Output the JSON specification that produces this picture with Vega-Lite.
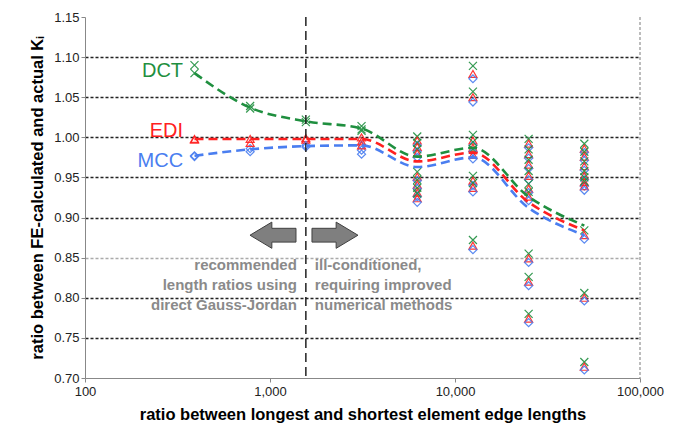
{
  "$schema": "https://vega.github.io/schema/vega-lite/v6.json",
  "width": 555,
  "height": 361,
  "autosize": {"type": "none"},
  "padding": {"left": 85, "top": 17, "right": 36, "bottom": 47},
  "background": "white",
  "config": {"view": {"stroke": null}, "font": "Liberation Sans"},
  "datasets": {
    "pts": [
      {"x": 390.625, "DCT": 1.090, "EDI": 0.998, "MCC": 0.977},
      {"x": 390.625, "DCT": 1.080, "EDI": 0.997, "MCC": 0.976},
      {"x": 781.25, "DCT": 1.039, "EDI": 0.998, "MCC": 0.986},
      {"x": 781.25, "DCT": 1.036, "EDI": 0.993, "MCC": 0.982},
      {"x": 1562.5, "DCT": 1.022, "EDI": 0.999, "MCC": 0.990},
      {"x": 1562.5, "DCT": 1.019, "EDI": 0.997, "MCC": 0.988},
      {"x": 3125, "DCT": 1.014, "EDI": 1.000, "MCC": 0.990},
      {"x": 3125, "DCT": 1.010, "EDI": 0.995, "MCC": 0.984},
      {"x": 3125, "DCT": 1.008, "EDI": 0.990, "MCC": 0.979},
      {"x": 6250, "DCT": 1.001, "EDI": 0.996, "MCC": 0.990},
      {"x": 6250, "DCT": 0.993, "EDI": 0.988, "MCC": 0.982},
      {"x": 6250, "DCT": 0.985, "EDI": 0.980, "MCC": 0.975},
      {"x": 6250, "DCT": 0.957, "EDI": 0.951, "MCC": 0.946},
      {"x": 6250, "DCT": 0.947, "EDI": 0.941, "MCC": 0.936},
      {"x": 6250, "DCT": 0.937, "EDI": 0.931, "MCC": 0.926},
      {"x": 6250, "DCT": 0.930, "EDI": 0.924, "MCC": 0.919},
      {"x": 12500, "DCT": 1.089, "EDI": 1.079, "MCC": 1.073},
      {"x": 12500, "DCT": 1.057, "EDI": 1.050, "MCC": 1.044},
      {"x": 12500, "DCT": 1.003, "EDI": 0.996, "MCC": 0.990},
      {"x": 12500, "DCT": 0.994, "EDI": 0.987, "MCC": 0.982},
      {"x": 12500, "DCT": 0.985, "EDI": 0.978, "MCC": 0.973},
      {"x": 12500, "DCT": 0.952, "EDI": 0.946, "MCC": 0.940},
      {"x": 12500, "DCT": 0.943, "EDI": 0.937, "MCC": 0.932},
      {"x": 12500, "DCT": 0.872, "EDI": 0.865, "MCC": 0.860},
      {"x": 25000, "DCT": 0.998, "EDI": 0.992, "MCC": 0.987},
      {"x": 25000, "DCT": 0.985, "EDI": 0.979, "MCC": 0.974},
      {"x": 25000, "DCT": 0.972, "EDI": 0.966, "MCC": 0.961},
      {"x": 25000, "DCT": 0.958, "EDI": 0.952, "MCC": 0.947},
      {"x": 25000, "DCT": 0.942, "EDI": 0.936, "MCC": 0.931},
      {"x": 25000, "DCT": 0.932, "EDI": 0.926, "MCC": 0.921},
      {"x": 25000, "DCT": 0.855, "EDI": 0.849, "MCC": 0.844},
      {"x": 25000, "DCT": 0.826, "EDI": 0.820, "MCC": 0.815},
      {"x": 25000, "DCT": 0.780, "EDI": 0.774, "MCC": 0.769},
      {"x": 50000, "DCT": 0.992, "EDI": 0.986, "MCC": 0.981},
      {"x": 50000, "DCT": 0.982, "EDI": 0.976, "MCC": 0.971},
      {"x": 50000, "DCT": 0.970, "EDI": 0.964, "MCC": 0.959},
      {"x": 50000, "DCT": 0.958, "EDI": 0.952, "MCC": 0.947},
      {"x": 50000, "DCT": 0.950, "EDI": 0.944, "MCC": 0.939},
      {"x": 50000, "DCT": 0.945, "EDI": 0.939, "MCC": 0.934},
      {"x": 50000, "DCT": 0.884, "EDI": 0.878, "MCC": 0.873},
      {"x": 50000, "DCT": 0.806, "EDI": 0.800, "MCC": 0.796},
      {"x": 50000, "DCT": 0.720, "EDI": 0.714, "MCC": 0.710}
    ],
    "means": [
      {"x": 390.625, "DCT": 1.080, "EDI": 0.998, "MCC": 0.977},
      {"x": 781.25, "DCT": 1.037, "EDI": 0.998, "MCC": 0.985},
      {"x": 1562.5, "DCT": 1.020, "EDI": 0.998, "MCC": 0.989},
      {"x": 3125, "DCT": 1.011, "EDI": 0.998, "MCC": 0.990},
      {"x": 6250, "DCT": 0.976, "EDI": 0.970, "MCC": 0.963},
      {"x": 12500, "DCT": 0.987, "EDI": 0.981, "MCC": 0.975},
      {"x": 25000, "DCT": 0.926, "EDI": 0.919, "MCC": 0.912},
      {"x": 50000, "DCT": 0.890, "EDI": 0.884, "MCC": 0.878}
    ],
    "labels": [
      {"label": "DCT", "x": 339, "y": 1.083},
      {"label": "EDI", "x": 339, "y": 1.008},
      {"label": "MCC", "x": 339, "y": 0.970}
    ],
    "notes": [
      {"side": "left", "text": "recommended", "x": 1562.5, "y": 0.841},
      {"side": "left", "text": "length ratios using", "x": 1562.5, "y": 0.816},
      {"side": "left", "text": "direct Gauss-Jordan", "x": 1562.5, "y": 0.791},
      {"side": "right", "text": "ill-conditioned,", "x": 1562.5, "y": 0.841},
      {"side": "right", "text": "requiring improved", "x": 1562.5, "y": 0.816},
      {"side": "right", "text": "numerical methods", "x": 1562.5, "y": 0.791}
    ],
    "arrows": [
      {"dir": "left", "x": 1038, "y": 0.878},
      {"dir": "right", "x": 2245, "y": 0.878}
    ],
    "vlines": [
      {"x": 1562.5, "kind": "limit"},
      {"x": 100000, "kind": "edge"}
    ]
  },
  "layer": [
    {
      "data": {"name": "pts"},
      "transform": [{"fold": ["DCT", "EDI", "MCC"], "as": ["method", "y"]}],
      "mark": {"type": "point", "filled": false, "strokeWidth": 1.2, "size": 64, "opacity": 0.9},
      "encoding": {
        "x": {
          "field": "x", "type": "quantitative",
          "scale": {"type": "log", "domain": [100, 100000], "nice": false},
          "axis": {
            "values": [100, 1000, 10000, 100000], "format": ",",
            "title": "ratio between longest and shortest element edge lengths",
            "titleFont": "Liberation Sans", "titleFontSize": 16.5, "titleFontWeight": "bold", "titleColor": "#000",
            "titlePadding": 8,
            "labelFont": "Liberation Sans", "labelFontSize": 13, "labelColor": "#222",
            "domainColor": "#888", "tickColor": "#888", "tickSize": 4, "grid": false, "labelPadding": 3,
            "labelFlush": false
          }
        },
        "y": {
          "field": "y", "type": "quantitative",
          "scale": {"domain": [0.7, 1.15], "nice": false, "zero": false},
          "axis": {
            "values": [0.7, 0.75, 0.8, 0.85, 0.9, 0.95, 1.0, 1.05, 1.1, 1.15], "format": ".2f",
            "title": "ratio between FE-calculated and actual Kᵢ",
            "titleFont": "Liberation Sans", "titleFontSize": 16.5, "titleFontWeight": "bold", "titleColor": "#000",
            "titlePadding": 8,
            "labelFont": "Liberation Sans", "labelFontSize": 13, "labelColor": "#222",
            "domainColor": "#888", "tickColor": "#888", "tickSize": 4,
            "grid": true, "gridDash": [3, 2], "gridWidth": 1.3,
            "gridColor": {"condition": {"test": "datum.value > 0.845 && datum.value < 0.855", "value": "#aaaaaa"}, "value": "#222222"},
            "gridOpacity": {"condition": {"test": "datum.value < 0.705 || datum.value > 1.145", "value": 0}, "value": 1}
          }
        },
        "color": {
          "field": "method", "type": "nominal",
          "scale": {"domain": ["DCT", "EDI", "MCC"], "range": ["#1f8f3f", "#ff2020", "#4a7ef0"]},
          "legend": null
        },
        "shape": {
          "field": "method", "type": "nominal",
          "scale": {"domain": ["DCT", "EDI", "MCC"], "range": ["M -1 -1 L 1 1 M -1 1 L 1 -1", "triangle-up", "diamond"]},
          "legend": null
        }
      }
    },
    {
      "data": {"name": "vlines"},
      "transform": [{"filter": "datum.kind == 'limit'"}],
      "mark": {"type": "rule", "color": "#222", "strokeDash": [9, 5], "strokeWidth": 1.5},
      "encoding": {"x": {"field": "x", "type": "quantitative"}}
    },
    {
      "data": {"name": "vlines"},
      "transform": [{"filter": "datum.kind == 'edge'"}],
      "mark": {"type": "rule", "color": "#999", "strokeDash": [3, 2], "strokeWidth": 1.3},
      "encoding": {"x": {"field": "x", "type": "quantitative"}}
    },
    {
      "data": {"name": "means"},
      "transform": [{"fold": ["DCT", "EDI", "MCC"], "as": ["method", "y"]}],
      "mark": {"type": "line", "interpolate": "monotone", "strokeDash": [9, 5], "strokeWidth": 2.6},
      "encoding": {
        "x": {"field": "x", "type": "quantitative"},
        "y": {"field": "y", "type": "quantitative"},
        "color": {"field": "method", "type": "nominal", "legend": null}
      }
    },
    {
      "data": {"name": "labels"},
      "mark": {"type": "text", "align": "right", "baseline": "middle", "fontSize": 20, "font": "Liberation Sans"},
      "encoding": {
        "x": {"field": "x", "type": "quantitative"},
        "y": {"field": "y", "type": "quantitative"},
        "text": {"field": "label"},
        "color": {"field": "label", "type": "nominal", "legend": null}
      }
    },
    {
      "data": {"name": "notes"},
      "transform": [{"filter": "datum.side == 'left'"}],
      "mark": {"type": "text", "align": "right", "baseline": "middle", "dx": -9, "fontSize": 15, "fontWeight": "bold", "font": "Liberation Sans", "color": "#8a8a8a"},
      "encoding": {
        "x": {"field": "x", "type": "quantitative"},
        "y": {"field": "y", "type": "quantitative"},
        "text": {"field": "text"}
      }
    },
    {
      "data": {"name": "notes"},
      "transform": [{"filter": "datum.side == 'right'"}],
      "mark": {"type": "text", "align": "left", "baseline": "middle", "dx": 9, "fontSize": 15, "fontWeight": "bold", "font": "Liberation Sans", "color": "#8a8a8a"},
      "encoding": {
        "x": {"field": "x", "type": "quantitative"},
        "y": {"field": "y", "type": "quantitative"},
        "text": {"field": "text"}
      }
    },
    {
      "data": {"name": "arrows"},
      "transform": [{"filter": "datum.dir == 'left'"}],
      "mark": {"type": "point", "filled": true, "fill": "#7f7f7f", "stroke": "#404040", "strokeWidth": 1, "opacity": 1, "size": 2116,
        "shape": "M -1 0 L -0.05 -0.57 L -0.05 -0.3 L 1 -0.3 L 1 0.3 L -0.05 0.3 L -0.05 0.57 Z"},
      "encoding": {
        "x": {"field": "x", "type": "quantitative"},
        "y": {"field": "y", "type": "quantitative"}
      }
    },
    {
      "data": {"name": "arrows"},
      "transform": [{"filter": "datum.dir == 'right'"}],
      "mark": {"type": "point", "filled": true, "fill": "#7f7f7f", "stroke": "#404040", "strokeWidth": 1, "opacity": 1, "size": 2116,
        "shape": "M 1 0 L 0.05 -0.57 L 0.05 -0.3 L -1 -0.3 L -1 0.3 L 0.05 0.3 L 0.05 0.57 Z"},
      "encoding": {
        "x": {"field": "x", "type": "quantitative"},
        "y": {"field": "y", "type": "quantitative"}
      }
    }
  ]
}
